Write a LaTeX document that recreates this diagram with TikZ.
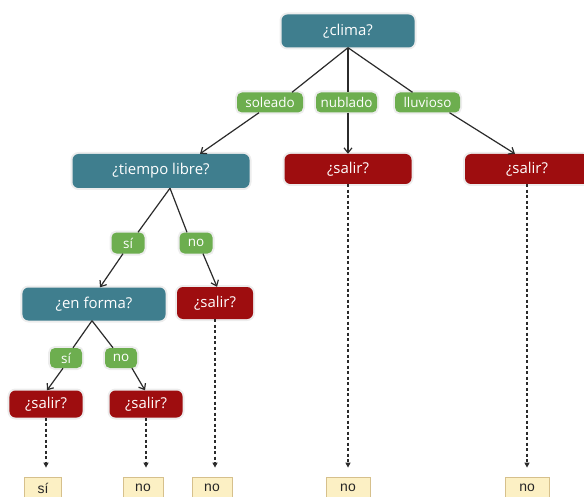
\documentclass[tikz,border=0pt]{standalone}
\usepackage{fontspec}
\setmainfont{Open Sans}
\newfontfamily\leaffont{Liberation Sans}
\usetikzlibrary{arrows.meta,calc}
\definecolor{tealc}{HTML}{3F7E8E}
\definecolor{redc}{HTML}{9E0D0F}
\definecolor{greenc}{HTML}{6DAE4F}
\definecolor{creamc}{HTML}{FCF0C4}
\definecolor{tanc}{HTML}{D6C08C}
\definecolor{linec}{HTML}{2B2B2B}
\tikzset{
  halo/.style={preaction={draw=black,draw opacity=0.07,line width=4bp}},
  qbox/.style={halo,rounded corners=6bp,fill=tealc,text=white,inner sep=0pt,
    font=\fontsize{15}{18}\selectfont,minimum height=33bp},
  outbox/.style={halo,rounded corners=6bp,fill=redc,text=white,inner sep=0pt,
    font=\fontsize{15}{18}\selectfont,minimum height=30bp},
  labbox/.style={halo,rounded corners=5bp,fill=greenc,text=white,inner sep=0pt,
    font=\fontsize{13.5}{16}\selectfont,minimum height=20bp},
  leafbox/.style={draw=tanc,line width=0.8bp,fill=creamc,text=black!85,inner sep=0pt,
    font=\leaffont\fontsize{14}{16}\selectfont,minimum height=22bp},
  conn/.style={draw=linec,line width=1.2bp},
  arr/.style={conn,-{Straight Barb[length=5bp,width=8bp]}},
  dasharr/.style={draw=linec,line width=1.3bp,dash pattern=on 3bp off 2.5bp,
    -{Triangle[length=5bp,width=5bp]},shorten >=9bp},
}
\begin{document}
\begin{tikzpicture}[x=1bp,y=-1bp]
\clip (0,0) rectangle (584,497);
\fill[white] (0,0) rectangle (584,497);
% nodes
\node[qbox,minimum width=133bp] (clima) at (348,31) {¿clima?};
\node[labbox,minimum width=66bp] (soleado) at (270,102.5) {soleado};
\node[labbox,minimum width=61bp] (nublado) at (346.5,102.5) {nublado};
\node[labbox,minimum width=65bp] (lluvioso) at (427.5,102.5) {lluvioso};
\node[qbox,minimum width=177bp,minimum height=34bp] (tiempo) at (161,171) {¿tiempo libre?};
\node[outbox,minimum width=127bp] (salirN) at (348,169) {¿salir?};
\node[outbox,minimum width=124bp] (salirL) at (527,169) {¿salir?};
\node[labbox,minimum width=33bp,minimum height=21bp] (si1) at (128,243) {sí};
\node[labbox,minimum width=33bp,minimum height=21bp] (no1) at (196,243) {no};
\node[qbox,minimum width=143bp] (enforma) at (94,304) {¿en forma?};
\node[outbox,minimum width=76bp,minimum height=32bp] (salirT) at (215,303) {¿salir?};
\node[labbox,minimum width=32bp] (si2) at (66,358) {sí};
\node[labbox,minimum width=32bp] (no2) at (121,358) {no};
\node[outbox,minimum width=73bp,minimum height=27bp] (salir1) at (46,404) {¿salir?};
\node[outbox,minimum width=73bp,minimum height=27bp] (salir2) at (146,404) {¿salir?};
\node[leafbox,minimum width=37bp] (leaf1) at (43,488) {sí};
\node[leafbox,minimum width=40bp] (leaf2) at (143,488) {no};
\node[leafbox,minimum width=40bp] (leaf3) at (212,488) {no};
\node[leafbox,minimum width=44bp] (leaf4) at (348,488) {no};
\node[leafbox,minimum width=44bp] (leaf5) at (527,488) {no};
% connectors
\draw[conn] (clima.south) -- ($(soleado.north)+(22,0)$);
\draw[conn] (clima.south) -- (nublado.north -| clima.south);
\draw[conn] (clima.south) -- ($(lluvioso.north)+(-15,0)$);
\draw[arr] ($(soleado.south)+(-11,0)$) -- ($(tiempo.north)+(39,0)$);
\draw[arr] (nublado.south -| salirN.north) -- (salirN.north);
\draw[arr] ($(lluvioso.south)+(22,0)$) -- ($(salirL.north)+(-12,0)$);
\draw[conn] ($(tiempo.south)+(9,0)$) -- ($(si1.north)+(10,0)$);
\draw[conn] ($(tiempo.south)+(9,0)$) -- ($(no1.north)+(-9,0)$);
\draw[arr] ($(si1.south)+(-5,0)$) -- ($(enforma.north)+(6,0)$);
\draw[arr] ($(no1.south)+(7,0)$) -- ($(salirT.north)+(2,0)$);
\draw[conn] ($(enforma.south)+(-2,0)$) -- ($(si2.north)+(7,0)$);
\draw[conn] ($(enforma.south)+(-2,0)$) -- ($(no2.north)+(-8,0)$);
\draw[arr] ($(si2.south)+(-3,0)$) -- ($(salir1.north)+(1,0)$);
\draw[arr] ($(no2.south)+(11,0)$) -- ($(salir2.north)+(-1,0)$);
\draw[dasharr] (salir1.south) -- (salir1.south |- leaf1.north);
\draw[dasharr] (salir2.south) -- (salir2.south |- leaf2.north);
\draw[dasharr] (salirT.south) -- (salirT.south |- leaf3.north);
\draw[dasharr] (salirN.south) -- (salirN.south |- leaf4.north);
\draw[dasharr] (salirL.south) -- (salirL.south |- leaf5.north);
\end{tikzpicture}
\end{document}
